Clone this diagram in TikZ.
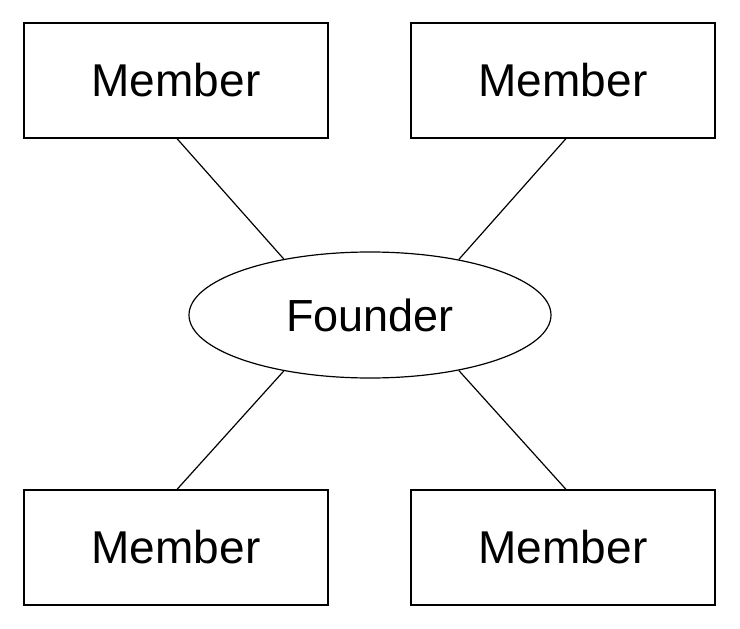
\documentclass[tikz,border=0pt]{standalone}
\usepackage{fontspec}
\setmainfont{Liberation Sans}
\usetikzlibrary{shapes.geometric}
\begin{document}
\begin{tikzpicture}[x=1pt,y=-1pt,
  every node/.style={line width=1.2pt},
  member/.style={draw, rectangle, minimum width=304pt, minimum height=115pt,
    inner sep=0pt, font=\fontsize{46}{50}\selectfont},
  founder/.style={draw, ellipse, minimum width=362pt, minimum height=126pt,
    inner sep=0pt, font=\fontsize{45}{50}\selectfont},
  link/.style={line width=1.2pt}]
\useasboundingbox (0,0) rectangle (740,629);
\node[member] (m1) at (176,80.5) {Member};
\node[member] (m2) at (563,80.5) {Member};
\node[member] (m3) at (176,547.5) {Member};
\node[member] (m4) at (563,547.5) {Member};
\node[founder] (f) at (370,315) {Founder};
\draw[link] ([xshift=1pt]m1.south) -- (f.147);
\draw[link] ([xshift=3pt]m2.south) -- (f.32);
\draw[link] ([xshift=1pt]m3.north) -- (f.213);
\draw[link] ([xshift=3pt]m4.north) -- (f.328);
\end{tikzpicture}
\end{document}
